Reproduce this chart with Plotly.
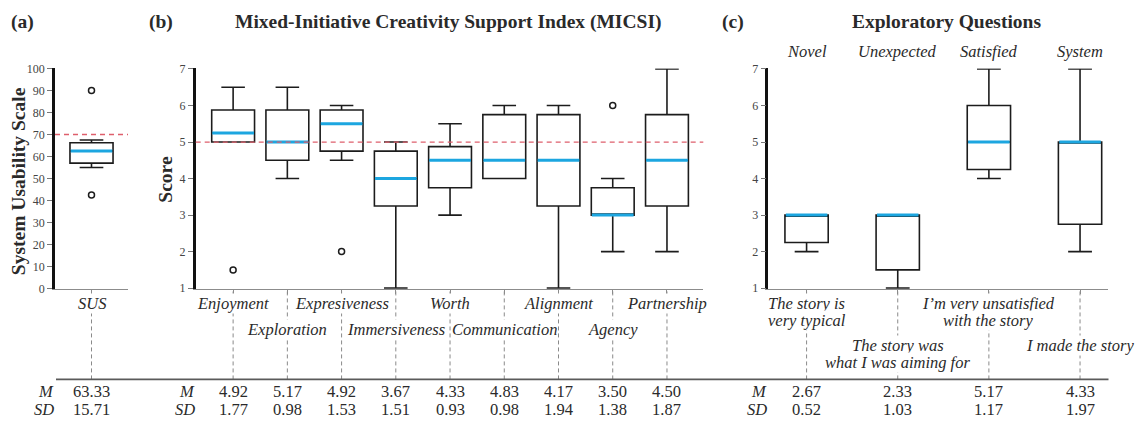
import plotly.graph_objects as go

# ---------------- data ----------------
# (a) System Usability Scale
sus_labels = ["SUS"]
sus_q1 = [57.0]
sus_median = [62.5]
sus_q3 = [66.25]
sus_low = [55.0]
sus_high = [67.5]
sus_outlier_idx = [0, 0]
sus_outlier_val = [90.0, 42.5]
sus_mean = [63.33]
sus_sd = [15.71]
sus_threshold = 70

# (b) Mixed-Initiative Creativity Support Index
micsi_labels = ["Enjoyment", "Exploration", "Expresiveness", "Immersiveness", "Worth",
                "Communication", "Alignment", "Agency", "Partnership"]
micsi_q1 = [5.0, 4.5, 4.75, 3.25, 3.75, 4.0, 3.25, 3.0, 3.25]
micsi_median = [5.25, 5.0, 5.5, 4.0, 4.5, 4.5, 4.5, 3.0, 4.5]
micsi_q3 = [5.875, 5.875, 5.875, 4.75, 4.875, 5.75, 5.75, 3.75, 5.75]
micsi_low = [5.0, 4.0, 4.5, 1.0, 3.0, 4.0, 1.0, 2.0, 2.0]
micsi_high = [6.5, 6.5, 6.0, 5.0, 5.5, 6.0, 6.0, 4.0, 7.0]
micsi_outlier_idx = [0, 2, 7]
micsi_outlier_val = [1.5, 2.0, 6.0]
micsi_mean = [4.92, 5.17, 4.92, 3.67, 4.33, 4.83, 4.17, 3.50, 4.50]
micsi_sd = [1.77, 0.98, 1.53, 1.51, 0.93, 0.98, 1.94, 1.38, 1.87]
micsi_threshold = 5

# (c) Exploratory questions
eq_labels = ["Novel", "Unexpected", "Satisfied", "System"]
eq_statements = ["The story is<br>very typical",
                 "The story was<br>what I was aiming for",
                 "I\u2019m very unsatisfied<br>with the story",
                 "I made the story"]
eq_q1 = [2.25, 1.5, 4.25, 2.75]
eq_median = [3.0, 3.0, 5.0, 5.0]
eq_q3 = [3.0, 3.0, 6.0, 5.0]
eq_low = [2.0, 1.0, 4.0, 2.0]
eq_high = [3.0, 3.0, 7.0, 7.0]
eq_mean = [2.67, 2.33, 5.17, 4.33]
eq_sd = [0.52, 1.03, 1.17, 1.97]

# ---------------- styling ----------------
W, H = 1142, 429
FONT = "Liberation Serif"
TEXT = "#2a2a2a"
TICK_TEXT = "#444444"
BOX_LINE = "#1c1c1c"
MEDIAN = "#1ca6e0"
REF_LINE = "#de5f6c"
GUIDE = "#8a8a8a"
AXIS_GRAY = "#8c8c8c"
LABEL_SIZE = 16.5
TITLE_SIZE = 19.5


def fy(p):
    """pixel row -> paper y"""
    return 1 - p / H


def fx(p):
    """pixel column -> paper x"""
    return p / W


Y_DOMAIN = [fy(291.2), fy(63.5)]
AXIS_Y_PX = 291.5
RULE_Y_PX = 385
ROW1_Y = 307
ROW2_Y = 333.5
MEAN_Y = 397
SD_Y = 416

panels = [
    dict(n="", labels=sus_labels, q1=sus_q1, med=sus_median, q3=sus_q3, low=sus_low,
         high=sus_high, oi=sus_outlier_idx, ov=sus_outlier_val, mean=sus_mean, sd=sus_sd,
         thr=sus_threshold, xdom=(55, 128), xr=(-0.5, 0.5), bw=0.59,
         yr=(0, 100), dtick=10),
    dict(n="2", labels=micsi_labels, q1=micsi_q1, med=micsi_median, q3=micsi_q3,
         low=micsi_low, high=micsi_high, oi=micsi_outlier_idx, ov=micsi_outlier_val,
         mean=micsi_mean, sd=micsi_sd, thr=micsi_threshold, xdom=(195.7, 703.3),
         xr=(-0.69, 8.67), bw=0.79, yr=(0.985, 7.015), dtick=1),
    dict(n="3", labels=eq_labels, q1=eq_q1, med=eq_median, q3=eq_q3, low=eq_low,
         high=eq_high, oi=[], ov=[], mean=eq_mean, sd=eq_sd, thr=None,
         xdom=(768.3, 1108.3), xr=(-0.42, 3.31), bw=0.475, yr=(0.985, 7.015), dtick=1),
]

fig = go.Figure()
shapes = []
annotations = []


def label(text, x, y, xref="paper", size=LABEL_SIZE, italic=True, bold=False,
          xanchor="center", bg=None, angle=0, color=TEXT):
    t = text
    if italic:
        t = f"<i>{t}</i>"
    if bold:
        t = f"<b>{t}</b>"
    a = dict(text=t, x=x, y=y, xref=xref, yref="paper", showarrow=False,
             xanchor=xanchor, yanchor="middle", textangle=angle,
             font=dict(family=FONT, size=size, color=color), borderpad=0)
    if bg:
        a["bgcolor"] = bg
    annotations.append(a)


layout_axes = {}
for p in panels:
    n = p["n"]
    xa, ya = "x" + n, "y" + n
    idx = list(range(len(p["labels"])))
    fig.add_trace(go.Box(
        x=idx, q1=p["q1"], median=p["med"], q3=p["q3"],
        lowerfence=p["low"], upperfence=p["high"],
        width=p["bw"], whiskerwidth=0.55, boxpoints=False,
        fillcolor="white", line=dict(color=BOX_LINE, width=1.6),
        xaxis=xa, yaxis=ya, showlegend=False, hoverinfo="skip"))
    # median bars
    mx, my = [], []
    for i, m in zip(idx, p["med"]):
        mx += [i - p["bw"] / 2 + 0.01, i + p["bw"] / 2 - 0.01, None]
        my += [m, m, None]
    fig.add_trace(go.Scatter(x=mx, y=my, mode="lines",
                             line=dict(color=MEDIAN, width=3),
                             xaxis=xa, yaxis=ya, showlegend=False, hoverinfo="skip"))
    if p["oi"]:
        fig.add_trace(go.Scatter(x=p["oi"], y=p["ov"], mode="markers",
                                 marker=dict(symbol="circle-open", size=6,
                                             color=BOX_LINE, line=dict(width=1.5)),
                                 xaxis=xa, yaxis=ya, showlegend=False,
                                 hoverinfo="skip", cliponaxis=False))
    if p["thr"] is not None:
        shapes.append(dict(type="line", xref=f"{xa} domain", x0=0, x1=1,
                           yref=ya, y0=p["thr"], y1=p["thr"], layer="above",
                           line=dict(color=REF_LINE, width=1.3, dash="5px,4px")))

    sfx = n if n else ""
    layout_axes["xaxis" + sfx] = dict(
        domain=[fx(p["xdom"][0]), fx(p["xdom"][1])], range=list(p["xr"]),
        anchor=ya, showgrid=False, zeroline=False, showline=True,
        linecolor=AXIS_GRAY, linewidth=1, ticks="outside", ticklen=4,
        tickcolor=AXIS_GRAY, tickvals=idx, showticklabels=False, fixedrange=True)
    layout_axes["yaxis" + sfx] = dict(
        domain=Y_DOMAIN, range=list(p["yr"]), anchor=xa, dtick=p["dtick"],
        tick0=p["yr"][0] if p["dtick"] == 10 else 1,
        showgrid=False, zeroline=False, showline=True, linecolor="#111111",
        linewidth=2.5, ticks="outside", ticklen=5, tickcolor="#777777",
        tickfont=dict(family=FONT, size=12, color=TICK_TEXT), fixedrange=True)

    # guide lines from each category down to the summary rule
    for i in idx:
        shapes.append(dict(type="line", xref=xa, x0=i, x1=i, yref="paper",
                           y0=fy(RULE_Y_PX), y1=fy(AXIS_Y_PX + 1), layer="above",
                           line=dict(color=GUIDE, width=1, dash="4px,3px")))

    # mean / sd rows
    label("M", 0, fy(MEAN_Y), xref=f"{xa} domain", xanchor="right")
    label("SD", 0, fy(SD_Y), xref=f"{xa} domain", xanchor="right")
    for i in idx:
        label(f"{p['mean'][i]:.2f}", i, fy(MEAN_Y), xref=xa, italic=False)
        label(f"{p['sd'][i]:.2f}", i, fy(SD_Y), xref=xa, italic=False)

# category labels under (a) and (b), alternating rows
for p in panels[:2]:
    xa = "x" + p["n"]
    for i, name in enumerate(p["labels"]):
        label(name, i, fy(ROW1_Y if i % 2 == 0 else ROW2_Y), xref=xa, bg="white")

# statements under (c) and question names above it
for i, (name, stmt) in enumerate(zip(eq_labels, eq_statements)):
    label(name, i, fy(46.5), xref="x3")
    lines = stmt.split("<br>")
    top = 306.7 if i % 2 == 0 else 349.5
    for k, line in enumerate(lines):
        label(line, i, fy(top + 17.6 * k), xref="x3", bg="white")

# summary rule
shapes.append(dict(type="line", xref="paper", yref="paper", x0=fx(56), x1=fx(1108.5),
                   y0=fy(RULE_Y_PX), y1=fy(RULE_Y_PX), layer="above",
                   line=dict(color="#5a5a5a", width=1.8)))

# panel tags and titles
label("(a)", fx(22), fy(15), size=TITLE_SIZE, italic=False, bold=True)
label("(b)", fx(160.5), fy(15), size=TITLE_SIZE, italic=False, bold=True)
label("(c)", fx(732.5), fy(15), size=TITLE_SIZE, italic=False, bold=True)
label("Mixed-Initiative Creativity Support Index (MICSI)", fx(448), fy(15),
      size=TITLE_SIZE, italic=False, bold=True)
label("Exploratory Questions", fx(946.7), fy(15), size=TITLE_SIZE, italic=False, bold=True)

# y-axis titles
label("System Usability Scale", fx(18), fy(180), size=TITLE_SIZE, italic=False,
      bold=True, angle=-90)
label("Score", fx(166), fy(178.5), size=TITLE_SIZE, italic=False, bold=True, angle=-90)

fig.update_layout(
    width=W, height=H, autosize=False,
    margin=dict(l=0, r=0, t=0, b=0),
    paper_bgcolor="white", plot_bgcolor="white",
    font=dict(family=FONT, color=TEXT),
    shapes=shapes, annotations=annotations,
    **layout_axes,
)

fig.write_html("out.html")
